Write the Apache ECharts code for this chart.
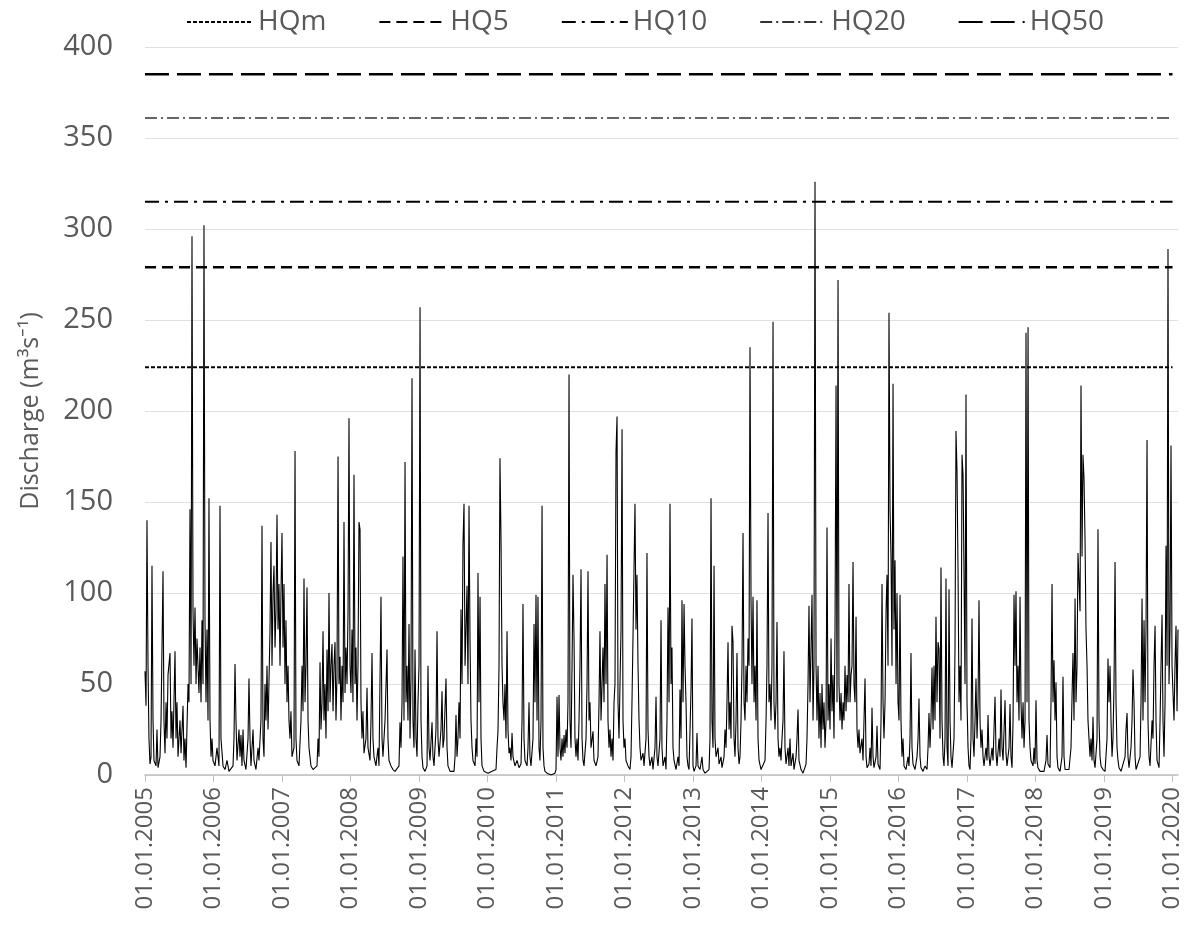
<!DOCTYPE html>
<html>
<head>
<meta charset="utf-8">
<script src="https://cdn.jsdelivr.net/npm/echarts@6/dist/echarts.min.js"></script>
<style>html,body{margin:0;padding:0;background:#fff}#chart{width:1187px;height:943px}</style>
</head>
<body>
<div id="chart"></div>
<script>
// ---- Data: time as fraction of year, discharge in m3/s ----
const years = [2005,2006,2007,2008,2009,2010,2011,2012,2013,2014,2015,2016,2017,2018,2019,2020];
const t2005 = [.000,.015,.029,.044,.058,.073,.088,.102,.117,.131,.161,.175,.190,.219,.234,.263,.277,.292,.307,.321,.336,.365,.380,.394,.409,.438,.453,.467,.482,.511,.526,.555,.569,.584,.599,.613,.628,.642,.657,.672,.686,.701,.715,.730,.745,.759,.788,.803,.818,.832,.847,.861,.876,.891,.905,.920,.934,.949,.964,.978,.993];
const q2005 = [57,38,140,60,20,6,10,115,30,8,5,25,4,10,30,112,30,12,40,20,55,67,20,35,15,68,20,40,10,30,12,38,8,20,4,5,50,40,146,50,296,90,60,92,50,75,45,70,40,85,50,302,85,40,80,30,152,30,10,20,8];
const t2006 = [.022,.051,.080,.095,.109,.139,.168,.197,.226,.255,.285,.299,.314,.328,.343,.372,.387,.401,.416,.431,.445,.474,.504,.518,.533,.547,.577,.591,.620,.650,.664,.693,.708,.723,.737,.752,.766,.781,.796,.825,.839,.854,.869,.883,.898,.912,.927,.942,.956,.971,.985];
const q2006 = [5,15,5,148,20,5,3,8,2,2,5,20,61,30,8,25,10,22,5,25,8,3,20,53,20,5,25,8,3,15,8,30,137,20,10,50,30,60,25,80,128,60,100,115,70,90,143,80,105,60,100];
const t2007 = [.000,.015,.029,.044,.058,.073,.088,.102,.117,.131,.146,.175,.190,.204,.219,.248,.277,.292,.307,.321,.336,.350,.365,.380,.394,.423,.453,.482,.511,.526,.540,.555,.569,.584,.599,.613,.628,.642,.657,.672,.686,.701,.715,.730,.745,.759,.774,.788,.803,.818,.832,.847,.861,.876,.891,.905,.920,.934,.949,.964,.978,.993];
const q2007 = [133,70,105,50,85,40,60,30,20,35,10,15,178,20,8,5,30,60,35,108,40,60,103,30,15,5,3,2,5,20,10,62,25,40,79,30,50,20,69,35,100,40,60,72,35,60,73,30,55,175,50,65,30,60,40,139,45,70,50,90,196,60];
const t2008 = [.007,.022,.036,.051,.066,.080,.095,.109,.124,.139,.153,.168,.182,.197,.226,.241,.255,.285,.299,.314,.328,.343,.372,.401,.416,.445,.460,.474,.504,.533,.547,.562,.591,.620,.650,.679,.708,.723,.737,.752,.766,.781,.796,.810,.825,.839,.854,.869,.883,.898,.912,.927,.942,.956,.971,.985];
const q2008 = [45,80,40,165,50,70,30,60,139,135,40,20,35,12,20,48,15,8,30,67,20,10,5,15,5,98,20,10,30,69,20,8,5,3,2,3,5,29,15,40,120,30,172,40,60,30,83,20,53,218,30,15,69,20,10,40];
const t2009 = [.000,.015,.029,.044,.058,.088,.117,.131,.146,.161,.190,.204,.219,.248,.263,.277,.292,.321,.336,.350,.365,.394,.409,.423,.453,.482,.511,.526,.540,.555,.569,.584,.599,.613,.628,.642,.657,.672,.686,.701,.715,.730,.745,.759,.774,.788,.818,.832,.847,.861,.876,.891,.905,.920,.949,.978];
const q2009 = [60,257,30,10,4,2,5,60,15,8,29,10,5,25,79,20,10,25,46,15,20,53,15,5,2,1,2,10,33,10,20,40,20,91,50,127,149,60,80,104,50,148,73,30,15,8,5,20,10,111,40,98,20,5,2,1];
const t2010 = [.007,.036,.066,.095,.124,.139,.153,.168,.182,.197,.212,.226,.241,.255,.270,.285,.299,.314,.328,.343,.358,.372,.401,.431,.460,.489,.504,.518,.533,.547,.577,.591,.606,.620,.635,.664,.679,.693,.708,.723,.737,.752,.766,.781,.796,.810,.825,.839,.869,.898,.927,.956,.985];
const q2010 = [1,1,2,1,3,15,24,60,174,130,60,40,30,50,20,79,25,12,15,8,23,10,5,8,4,6,30,94,20,8,5,15,40,10,5,20,83,40,99,30,98,15,8,30,148,15,5,2,1,0,0,0.5,1];
const t2011 = [.000,.015,.029,.044,.058,.073,.088,.102,.117,.131,.146,.161,.175,.190,.204,.219,.234,.248,.263,.277,.292,.307,.321,.336,.350,.365,.380,.394,.409,.438,.453,.467,.482,.496,.511,.540,.555,.584,.613,.628,.642,.657,.672,.686,.701,.715,.730,.745,.759,.774,.788,.803,.818,.832,.847,.861,.876,.891,.905,.920,.934,.949,.964,.978,.993];
const q2011 = [3,43,10,44,15,8,20,10,22,12,25,15,40,220,30,15,60,110,75,20,10,20,8,30,60,113,20,8,5,20,50,112,30,40,15,24,8,5,10,40,79,30,50,70,40,105,50,121,30,15,25,10,20,8,40,50,178,197,40,20,50,80,190,30,15];
const t2012 = [.007,.022,.051,.080,.095,.109,.124,.139,.153,.168,.182,.197,.212,.226,.241,.270,.285,.314,.328,.343,.358,.372,.401,.416,.445,.460,.474,.489,.518,.533,.547,.562,.591,.606,.620,.635,.650,.664,.679,.693,.708,.723,.752,.781,.796,.810,.825,.839,.854,.869,.883,.898,.912,.927,.942,.956,.971,.985];
const q2012 = [20,8,5,3,10,40,76,114,149,80,110,61,30,15,8,12,5,20,122,25,10,5,10,3,15,43,10,5,20,85,15,5,10,3,30,92,40,149,50,70,15,8,3,10,5,47,20,96,40,94,60,40,10,5,3,2,47,86];
const t2013 = [.000,.015,.044,.058,.073,.102,.131,.146,.175,.204,.234,.248,.263,.277,.292,.307,.321,.336,.365,.380,.409,.423,.453,.467,.482,.496,.511,.526,.540,.555,.569,.584,.599,.613,.628,.642,.657,.672,.686,.701,.715,.730,.745,.759,.774,.788,.803,.818,.832,.847,.861,.876,.891,.905,.920,.934,.949,.964,.993];
const q2013 = [5,2,5,23,5,3,10,3,1,1,3,20,152,30,15,115,20,10,15,6,10,4,10,25,15,40,73,25,40,20,82,73,20,10,30,67,15,6,10,30,60,133,40,30,60,40,75,60,235,96,50,98,40,60,30,96,20,8,3];
const t2014 = [.022,.051,.066,.080,.095,.109,.124,.139,.153,.168,.182,.197,.212,.226,.241,.255,.270,.285,.299,.314,.328,.343,.358,.387,.401,.416,.431,.460,.474,.504,.518,.533,.547,.577,.606,.635,.650,.664,.679,.693,.708,.723,.737,.752,.766,.781,.796,.810,.825,.839,.854,.869,.883,.898,.912,.927,.942,.956,.971,.985];
const q2014 = [2,8,30,60,144,40,50,30,60,249,40,25,40,84,20,10,15,8,20,30,68,15,6,15,5,20,5,12,3,10,20,36,8,3,1,2,6,20,50,93,40,70,99,30,60,326,60,30,60,20,45,15,50,25,40,15,30,136,30,50];
const t2015 = [.000,.015,.029,.044,.058,.073,.088,.102,.117,.131,.146,.161,.175,.190,.204,.219,.234,.248,.263,.277,.292,.307,.321,.336,.350,.365,.380,.394,.409,.423,.438,.467,.482,.511,.526,.540,.569,.584,.599,.613,.628,.642,.672,.686,.701,.730,.745,.759,.774,.788,.803,.818,.832,.847,.861,.876,.891,.905,.920,.934,.949,.964,.978,.993];
const q2015 = [25,75,35,55,20,80,214,40,272,50,30,45,25,40,30,60,35,55,40,105,40,55,60,117,50,40,87,25,15,25,12,20,8,53,10,4,6,15,5,37,10,4,10,27,6,3,30,105,40,20,40,90,110,60,254,146,119,60,215,80,118,50,100,40];
const t2016 = [.007,.022,.036,.051,.066,.080,.109,.139,.153,.168,.182,.197,.212,.241,.270,.285,.299,.314,.328,.358,.387,.416,.431,.445,.460,.474,.489,.504,.518,.533,.547,.562,.577,.591,.606,.620,.635,.650,.664,.679,.693,.708,.723,.737,.752,.766,.781,.810,.825,.839,.854,.869,.883,.898,.912,.927,.942,.956,.971,.985];
const q2016 = [30,99,30,10,20,5,3,10,5,20,67,15,6,3,10,20,42,10,4,2,5,3,15,34,15,30,59,25,60,30,87,40,73,69,20,114,30,10,5,20,108,15,5,102,30,10,4,20,71,189,167,112,40,60,30,176,165,112,50,209];
const t2017 = [.000,.015,.029,.044,.058,.073,.088,.102,.117,.131,.146,.161,.175,.190,.204,.219,.234,.248,.277,.292,.307,.321,.336,.365,.380,.409,.423,.438,.467,.482,.496,.511,.526,.555,.569,.584,.613,.628,.642,.657,.672,.686,.701,.715,.730,.745,.759,.774,.788,.803,.818,.832,.847,.861,.876,.891,.905,.920,.934,.964,.978,.993];
const q2017 = [40,15,5,3,20,86,20,10,30,53,20,40,96,30,15,25,10,5,15,8,33,10,5,15,8,43,12,5,20,10,47,15,8,41,12,5,15,39,10,4,30,99,60,101,40,60,30,98,40,20,40,15,30,243,40,246,30,15,8,5,15,6];
const t2018 = [.007,.022,.036,.066,.095,.124,.153,.168,.182,.212,.226,.241,.255,.270,.285,.299,.314,.328,.358,.387,.401,.416,.431,.460,.489,.518,.533,.547,.562,.577,.591,.606,.620,.635,.650,.664,.679,.693,.708,.723,.737,.752,.766,.781,.796,.810,.825,.839,.854,.869,.898,.912,.927,.942,.956,.985];
const q2018 = [41,8,4,2,3,2,8,22,6,4,40,105,40,63,30,51,10,4,2,10,54,10,3,2,3,15,43,67,30,97,40,60,122,121,90,214,120,176,163,129,80,60,30,20,10,20,8,32,8,4,20,135,30,10,5,3];
const t2019 = [.015,.044,.058,.073,.088,.102,.117,.131,.146,.161,.175,.190,.204,.219,.248,.277,.307,.321,.336,.350,.365,.394,.409,.423,.438,.453,.467,.496,.526,.540,.555,.569,.584,.599,.613,.628,.642,.657,.672,.701,.715,.730,.745,.759,.774,.803,.818,.832,.847,.861,.876,.891,.905,.920,.934,.949,.964,.978,.993];
const q2019 = [2,20,64,40,60,30,10,20,50,117,40,15,8,4,2,3,10,25,34,10,4,15,30,58,40,10,3,2,10,40,97,30,85,40,80,184,30,10,5,30,20,60,82,30,8,4,30,60,88,30,10,40,126,60,289,50,80,181,60];
const t2020 = [.007,.022,.036,.051,.066,.080];
const q2020 = [45,30,60,82,35,80];

// Flood thresholds (m3/s)
const hqNames = ['HQm','HQ5','HQ10','HQ20','HQ50'];
const hqValues = [224, 279, 315, 361, 385];
const yAxisTitle = 'Discharge (m³s⁻¹)';

// ---- build the series table ----
const tYears = [t2005,t2006,t2007,t2008,t2009,t2010,t2011,t2012,t2013,t2014,t2015,t2016,t2017,t2018,t2019,t2020];
const qYears = [q2005,q2006,q2007,q2008,q2009,q2010,q2011,q2012,q2013,q2014,q2015,q2016,q2017,q2018,q2019,q2020];
const flow = [];
years.forEach((y, i) => {
  if (tYears[i].length !== qYears[i].length) throw new Error('length mismatch ' + y);
  tYears[i].forEach((f, j) => flow.push([y + f, qYears[i][j]]));
});
const xStart = years[0];
const xEnd = years[years.length - 1];
const xMax = flow[flow.length - 1][0];

const hqStyles = [
  {width: 2, type: [4, 2], color: '#000'},
  {width: 2.5, type: [11, 6], color: '#000'},
  {width: 2, type: [14, 6, 3, 6], color: '#000'},
  {width: 1.3, type: [12, 4, 2, 4], color: '#333'},
  {width: 2.5, type: [24, 8], color: '#000'}
];

const series = [{
  name: 'Discharge',
  type: 'line',
  data: flow,
  symbol: 'none',
  lineStyle: {color: '#000', width: 1.1},
  z: 2
}];
hqNames.forEach((n, i) => {
  series.push({
    name: n,
    type: 'line',
    data: [[xStart, hqValues[i]], [xEnd, hqValues[i]]],
    symbol: 'none',
    showSymbol: false,
    lineStyle: hqStyles[i],
    itemStyle: {color: hqStyles[i].color},
    z: 3
  });
});

const chart = echarts.init(document.getElementById('chart'));
chart.setOption({
  animation: false,
  backgroundColor: '#fff',
  textStyle: {fontFamily: 'Open Sans, Noto Sans, sans-serif'},
  legend: {
    data: hqNames,
    top: 3,
    left: 181,
    itemWidth: 66,
    itemHeight: 14,
    itemGap: 52,
    itemStyle: {opacity: 0},
    textStyle: {fontSize: 28, color: '#595959', fontFamily: 'Open Sans, Noto Sans, sans-serif'}
  },
  grid: {left: 145, right: 9, top: 47, bottom: 168},
  xAxis: {
    type: 'value',
    min: xStart,
    max: xMax,
    interval: 1,
    axisLine: {lineStyle: {color: '#bfbfbf', width: 1.5}},
    axisTick: {show: true, length: 7, lineStyle: {color: '#bfbfbf'}},
    splitLine: {show: false},
    axisLabel: {
      rotate: 90,
      fontSize: 24,
      color: '#595959',
      margin: 12,
      showMaxLabel: false,
      formatter: v => Math.abs(v - Math.round(v)) < 1e-6 ? '01.01.' + Math.round(v) : ''
    }
  },
  yAxis: {
    type: 'value',
    min: 0,
    max: 400,
    interval: 50,
    name: yAxisTitle,
    nameLocation: 'middle',
    nameGap: 102,
    nameTextStyle: {fontSize: 25, color: '#595959'},
    axisLine: {show: false},
    axisTick: {show: false},
    axisLabel: {fontSize: 29, color: '#595959', margin: 32},
    splitLine: {lineStyle: {color: '#e0e0e0', width: 1}}
  },
  series: series
});
</script>
</body>
</html>
